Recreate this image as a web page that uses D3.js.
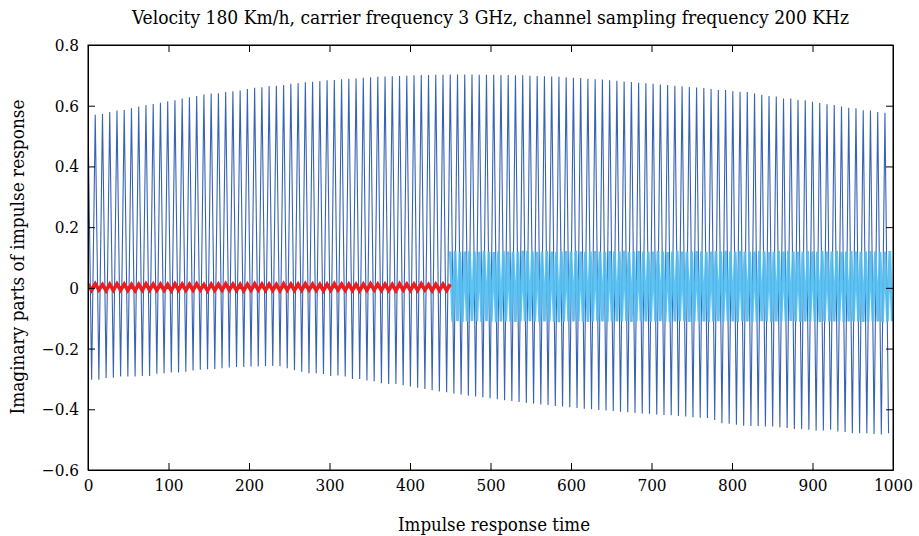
<!DOCTYPE html>
<html>
<head>
<meta charset="utf-8">
<script src="https://cdn.jsdelivr.net/npm/d3@7"></script>
<style>
  body { margin: 0; background: #ffffff; }
  svg { display: block; }
  .axis text { font-family: "DejaVu Serif Condensed", "Liberation Serif", serif; font-size: 17px; fill: #000; }
  .axis path, .axis line { stroke: #000; }
  .label { font-family: "DejaVu Serif Condensed", "Liberation Serif", serif; }
</style>
</head>
<body>
<div id="chart"></div>
<script>
// Tick labels
const xTicks = [0, 100, 200, 300, 400, 500, 600, 700, 800, 900, 1000];
const yTicks = [-0.6, -0.4, -0.2, 0, 0.2, 0.4, 0.6, 0.8];

// Dark blue series: one peak every darkPeriod samples, trough halfway between
const darkPeriod = 9;
const darkHigh = [
  0.564, 0.570, 0.573, 0.579, 0.584, 0.586, 0.592, 0.597, 0.602, 0.606,
  0.610, 0.615, 0.618, 0.624, 0.628, 0.632, 0.637, 0.640, 0.641, 0.645,
  0.648, 0.650, 0.655, 0.659, 0.661, 0.665, 0.666, 0.668, 0.672, 0.675,
  0.677, 0.679, 0.681, 0.684, 0.685, 0.687, 0.689, 0.690, 0.692, 0.694,
  0.695, 0.696, 0.697, 0.698, 0.699, 0.700, 0.701, 0.701, 0.702, 0.702,
  0.703, 0.703, 0.703, 0.703, 0.702, 0.702, 0.702, 0.701, 0.701, 0.700,
  0.700, 0.699, 0.698, 0.697, 0.696, 0.695, 0.694, 0.692, 0.691, 0.689,
  0.687, 0.686, 0.684, 0.682, 0.680, 0.678, 0.676, 0.674, 0.672, 0.670,
  0.668, 0.666, 0.664, 0.662, 0.660, 0.658, 0.655, 0.652, 0.652, 0.648,
  0.646, 0.645, 0.640, 0.636, 0.632, 0.630, 0.624, 0.624, 0.619, 0.618,
  0.613, 0.609, 0.605, 0.602, 0.597, 0.593, 0.592, 0.585, 0.584, 0.579,
  0.577
];
const darkLow = [
  -0.303, -0.303, -0.297, -0.296, -0.292, -0.292, -0.292, -0.290, -0.290, -0.283,
  -0.281, -0.279, -0.279, -0.276, -0.272, -0.270, -0.268, -0.267, -0.265, -0.262,
  -0.261, -0.261, -0.259, -0.259, -0.257, -0.257, -0.258, -0.265, -0.271, -0.276,
  -0.281, -0.281, -0.284, -0.290, -0.289, -0.292, -0.300, -0.300, -0.305, -0.308,
  -0.314, -0.317, -0.317, -0.321, -0.325, -0.329, -0.333, -0.337, -0.341, -0.344,
  -0.348, -0.351, -0.355, -0.358, -0.361, -0.364, -0.367, -0.370, -0.373, -0.376,
  -0.379, -0.381, -0.384, -0.386, -0.389, -0.391, -0.393, -0.396, -0.398, -0.400,
  -0.402, -0.404, -0.406, -0.408, -0.410, -0.412, -0.414, -0.415, -0.417, -0.419,
  -0.420, -0.422, -0.424, -0.426, -0.428, -0.429, -0.435, -0.446, -0.448, -0.451,
  -0.454, -0.455, -0.455, -0.457, -0.457, -0.459, -0.462, -0.465, -0.465, -0.467,
  -0.471, -0.470, -0.467, -0.473, -0.475, -0.479, -0.479, -0.479, -0.481, -0.483,
  -0.479
];

// Light blue series, from sample 450 to the end
const lightStart = 450;
const lightPeriod = 6;
const lightHigh = [
  0.120, 0.121, 0.119, 0.120, 0.122, 0.120, 0.119, 0.121, 0.120, 0.118,
  0.120, 0.121, 0.120, 0.119, 0.120, 0.122, 0.121, 0.120, 0.119, 0.120,
  0.121, 0.120, 0.118, 0.120, 0.121, 0.120, 0.122, 0.120, 0.119, 0.120,
  0.121, 0.120, 0.119, 0.121, 0.120, 0.120, 0.122, 0.119, 0.120, 0.121,
  0.120, 0.119, 0.120, 0.121, 0.120, 0.118, 0.120, 0.122, 0.120, 0.119,
  0.120, 0.121, 0.120, 0.119, 0.120, 0.121, 0.120, 0.122, 0.120, 0.119,
  0.121, 0.120, 0.119, 0.120, 0.121, 0.120, 0.118, 0.120, 0.121, 0.120,
  0.122, 0.120, 0.119, 0.120, 0.121, 0.120, 0.119, 0.121, 0.120, 0.120,
  0.122, 0.119, 0.120, 0.121, 0.120, 0.119, 0.120, 0.121, 0.120, 0.118,
  0.120, 0.121
];
const lightLow = [
  -0.111, -0.110, -0.112, -0.111, -0.109, -0.111, -0.112, -0.110, -0.111, -0.113,
  -0.111, -0.110, -0.111, -0.112, -0.111, -0.109, -0.110, -0.111, -0.112, -0.111,
  -0.110, -0.111, -0.113, -0.111, -0.110, -0.111, -0.109, -0.111, -0.112, -0.111,
  -0.110, -0.111, -0.112, -0.110, -0.111, -0.111, -0.109, -0.112, -0.111, -0.110,
  -0.111, -0.112, -0.111, -0.110, -0.111, -0.113, -0.111, -0.109, -0.111, -0.112,
  -0.111, -0.110, -0.111, -0.112, -0.111, -0.110, -0.111, -0.109, -0.111, -0.112,
  -0.110, -0.111, -0.112, -0.111, -0.110, -0.111, -0.113, -0.111, -0.110, -0.111,
  -0.109, -0.111, -0.112, -0.111, -0.110, -0.111, -0.112, -0.110, -0.111, -0.111,
  -0.109, -0.112, -0.111, -0.110, -0.111, -0.112, -0.111, -0.110, -0.111, -0.113,
  -0.111, -0.110
];

// Red series, from sample 0 to 450
const redPeriod = 9;
const redHigh = [
  0.012, 0.013, 0.011, 0.012, 0.013, 0.012, 0.011, 0.012, 0.013, 0.012,
  0.012, 0.011, 0.013, 0.012, 0.012, 0.013, 0.011, 0.012, 0.012, 0.013,
  0.012, 0.011, 0.012, 0.013, 0.012, 0.012, 0.011, 0.013, 0.012, 0.012,
  0.013, 0.012, 0.011, 0.012, 0.013, 0.012, 0.012, 0.011, 0.012, 0.013,
  0.012, 0.012, 0.011, 0.013, 0.012, 0.012, 0.013, 0.011, 0.012, 0.012,
  0.012
];
const redLow = [
  -0.008, -0.007, -0.009, -0.008, -0.007, -0.008, -0.009, -0.008, -0.007, -0.008,
  -0.008, -0.009, -0.007, -0.008, -0.008, -0.007, -0.009, -0.008, -0.008, -0.007,
  -0.008, -0.009, -0.008, -0.007, -0.008, -0.008, -0.009, -0.007, -0.008, -0.008,
  -0.007, -0.008, -0.009, -0.008, -0.007, -0.008, -0.008, -0.009, -0.008, -0.007,
  -0.008, -0.008, -0.009, -0.007, -0.008, -0.008, -0.007, -0.009, -0.008, -0.008
];

// Turn peak / trough arrays into [time, value] points
function zigzag(start, period, highs, lows) {
  const pts = [];
  highs.forEach((h, i) => {
    pts.push([start + i * period, h]);
    if (i < lows.length) pts.push([start + i * period + period / 2, lows[i]]);
  });
  return pts;
}

const darkPoints = zigzag(0, darkPeriod, darkHigh, darkLow);
const lightPoints = zigzag(lightStart, lightPeriod, lightHigh, lightLow);
const redPoints = zigzag(0, redPeriod, redHigh, redLow);

// Set up dimensions and margins
const margin = { top: 45, right: 26, bottom: 66, left: 88 };
const width = 919 - margin.left - margin.right;
const height = 536 - margin.top - margin.bottom;

const root = d3.select('#chart')
  .append('svg')
  .attr('width', 919)
  .attr('height', 536);

const svg = root.append('g')
  .attr('transform', `translate(${margin.left},${margin.top})`);

const x = d3.scaleLinear().domain([0, 1000]).range([0, width]);
const y = d3.scaleLinear().domain([-0.6, 0.8]).range([height, 0]);

const line = d3.line()
  .x(d => x(d[0]))
  .y(d => y(d[1]));

svg.append('defs').append('clipPath')
  .attr('id', 'plot-clip')
  .append('rect')
  .attr('width', width)
  .attr('height', height);

const plot = svg.append('g').attr('clip-path', 'url(#plot-clip)');

// Dark blue series
plot.append('path')
  .datum(darkPoints)
  .attr('fill', 'none')
  .attr('stroke', '#2152ad')
  .attr('stroke-opacity', 0.9)
  .attr('stroke-width', 1.1)
  .attr('d', line);

// Light blue series
plot.append('path')
  .datum(lightPoints)
  .attr('fill', 'none')
  .attr('stroke', '#4fbcef')
  .attr('stroke-opacity', 0.9)
  .attr('stroke-width', 2.7)
  .attr('d', line);

// Red series
plot.append('path')
  .datum(redPoints)
  .attr('fill', 'none')
  .attr('stroke', '#ee1c1c')
  .attr('stroke-width', 3.6)
  .attr('d', line);

// Axes, ticks pointing inward
svg.append('g')
  .attr('class', 'axis')
  .attr('transform', `translate(0,${height})`)
  .call(d3.axisBottom(x).tickValues(xTicks).tickSize(-7).tickPadding(9).tickSizeOuter(0)
    .tickFormat(d => String(d)));

svg.append('g')
  .attr('class', 'axis')
  .call(d3.axisTop(x).tickValues(xTicks).tickSize(-7).tickSizeOuter(0).tickFormat(''));

svg.append('g')
  .attr('class', 'axis')
  .call(d3.axisLeft(y).tickValues(yTicks).tickSize(-7).tickPadding(9).tickSizeOuter(0)
    .tickFormat(d => d === 0 ? '0' : d3.format('.1f')(d)));

svg.append('g')
  .attr('class', 'axis')
  .attr('transform', `translate(${width},0)`)
  .call(d3.axisRight(y).tickValues(yTicks).tickSize(-7).tickSizeOuter(0).tickFormat(''));

// Frame
svg.append('rect')
  .attr('width', width)
  .attr('height', height)
  .attr('fill', 'none')
  .attr('stroke', '#000')
  .attr('stroke-width', 1);

// Title
root.append('text')
  .attr('class', 'label')
  .attr('x', margin.left + width / 2)
  .attr('y', 24)
  .attr('text-anchor', 'middle')
  .attr('textLength', 717)
  .attr('lengthAdjust', 'spacingAndGlyphs')
  .style('font-size', '18px')
  .text('Velocity 180 Km/h, carrier frequency 3 GHz, channel sampling frequency 200 KHz');

// X-axis label
root.append('text')
  .attr('class', 'label')
  .attr('x', 494)
  .attr('y', 531)
  .attr('text-anchor', 'middle')
  .attr('textLength', 192)
  .attr('lengthAdjust', 'spacingAndGlyphs')
  .style('font-size', '19px')
  .text('Impulse response time');

// Y-axis label
root.append('text')
  .attr('class', 'label')
  .attr('transform', 'translate(24,257) rotate(-90)')
  .attr('text-anchor', 'middle')
  .attr('textLength', 315)
  .attr('lengthAdjust', 'spacingAndGlyphs')
  .style('font-size', '19px')
  .text('Imaginary parts of impulse response');
</script>
</body>
</html>
